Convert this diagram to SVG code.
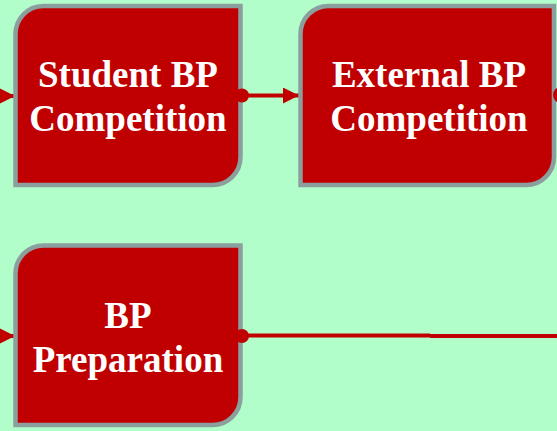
<svg xmlns="http://www.w3.org/2000/svg" width="557" height="431" viewBox="0 0 557 431">
  <defs>
    <style>
      .box { fill: #c00000; stroke: #8c9f9f; stroke-width: 4.5; }
      .lbl { font-family: "Liberation Serif", "Times New Roman", serif; font-weight: bold; font-size: 37px; fill: #ffffff; text-anchor: middle; }
      .conn { stroke: #c00000; stroke-width: 4; fill: none; }
      .dot { fill: #c00000; }
    </style>
    <marker id="arrow" viewBox="0 0 16 16" refX="16" refY="8" markerWidth="16" markerHeight="16" markerUnits="userSpaceOnUse" orient="auto">
      <path d="M0,0 L16,8 L0,16 Z" fill="#c00000"/>
    </marker>
  </defs>
  <rect width="557" height="431" fill="#b2fecb"/>

  <g id="connectors">
    <line class="conn" x1="-30" y1="96" x2="15" y2="96" marker-end="url(#arrow)"/>
    <line class="conn" x1="242" y1="95.5" x2="299" y2="95.5" marker-end="url(#arrow)"/>
    <line class="conn" x1="-30" y1="336" x2="15" y2="336" marker-end="url(#arrow)"/>
    <line class="conn" x1="242" y1="335.5" x2="430" y2="335.5"/>
    <line class="conn" x1="430" y1="336" x2="560" y2="336"/>
  </g>

  <g id="node-student">
    <path class="box" d="M43,6 H240.5 V157 A28,28 0 0 1 212.5,185 H15.5 V34 A28,28 0 0 1 43,6 Z"/>
    <text class="lbl" x="128" y="87">Student BP</text>
    <text class="lbl" x="128" y="131">Competition</text>
  </g>

  <g id="node-external">
    <path class="box" d="M328.5,6 H554 V157 A28,28 0 0 1 526,185 H300.5 V34 A28,28 0 0 1 328.5,6 Z"/>
    <text class="lbl" x="429" y="87">External BP</text>
    <text class="lbl" x="429" y="131">Competition</text>
  </g>

  <g id="node-preparation">
    <path class="box" d="M43.5,245.5 H240.5 V397 A28,28 0 0 1 212.5,425 H15.5 V273.5 A28,28 0 0 1 43.5,245.5 Z"/>
    <text class="lbl" x="128" y="328">BP</text>
    <text class="lbl" x="128" y="372">Preparation</text>
  </g>

  <g id="ports">
    <circle class="dot" cx="242" cy="95.5" r="7"/>
    <circle class="dot" cx="561" cy="95" r="8"/>
    <circle class="dot" cx="242" cy="336" r="7"/>
  </g>
</svg>
